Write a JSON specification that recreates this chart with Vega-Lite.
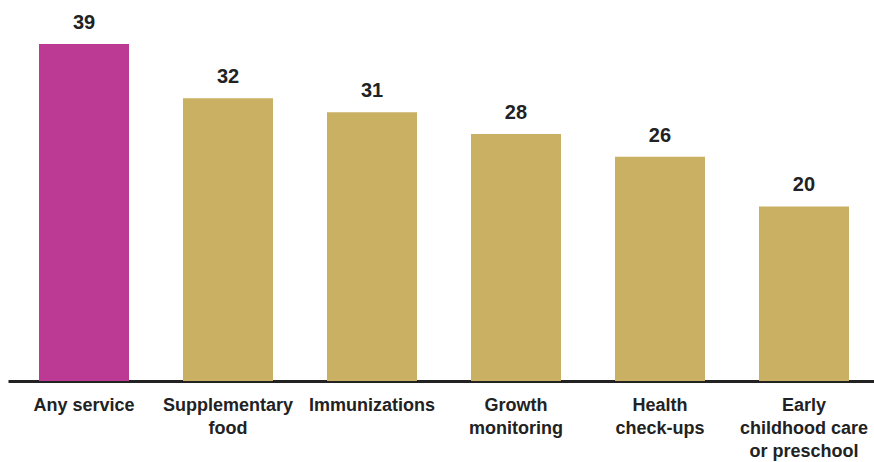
{
  "$schema": "https://vega.github.io/schema/vega-lite/v6.json",
  "autosize": "none",
  "width": 872,
  "height": 371,
  "padding": {"left": 8, "top": 10, "right": 0, "bottom": 81},
  "background": "white",
  "data": {"values": [
    {"service": "Any service", "value": 38.6, "group": "any"},
    {"service": "Supplementary|food", "value": 32.4, "group": "other"},
    {"service": "Immunizations", "value": 30.8, "group": "other"},
    {"service": "Growth|monitoring", "value": 28.3, "group": "other"},
    {"service": "Health|check-ups", "value": 25.7, "group": "other"},
    {"service": "Early|childhood care|or preschool", "value": 20.0, "group": "other"}
  ]},
  "encoding": {
    "x": {"field": "service", "type": "nominal", "sort": null,
      "scale": {"paddingInner": 0.375, "paddingOuter": 0.2153},
      "axis": {"title": null, "labelAngle": 0, "ticks": false, "domainColor": "#222222", "domainWidth": 3,
        "labelExpr": "split(datum.label, '|')", "labelFont": "Liberation Sans Narrow, Liberation Sans", "labelFontWeight": "bold",
        "labelFontSize": 18, "labelColor": "#222222", "labelPadding": 15, "labelLineHeight": 23, "labelBaseline": "top"}},
    "y": {"field": "value", "type": "quantitative", "scale": {"domain": [0, 42.5], "nice": false}, "axis": null}
  },
  "layer": [
    {"mark": {"type": "bar"},
     "encoding": {"color": {"field": "group", "type": "nominal", "scale": {"domain": ["any", "other"], "range": ["#BC3A93", "#C9B063"]}, "legend": null}}},
    {"mark": {"type": "text", "dy": -21, "font": "Liberation Sans Narrow, Liberation Sans", "fontWeight": "bold", "fontSize": 20, "color": "#222222"},
     "encoding": {"text": {"field": "value", "type": "quantitative", "format": ".0f"}}}
  ],
  "config": {"view": {"stroke": null}}
}
